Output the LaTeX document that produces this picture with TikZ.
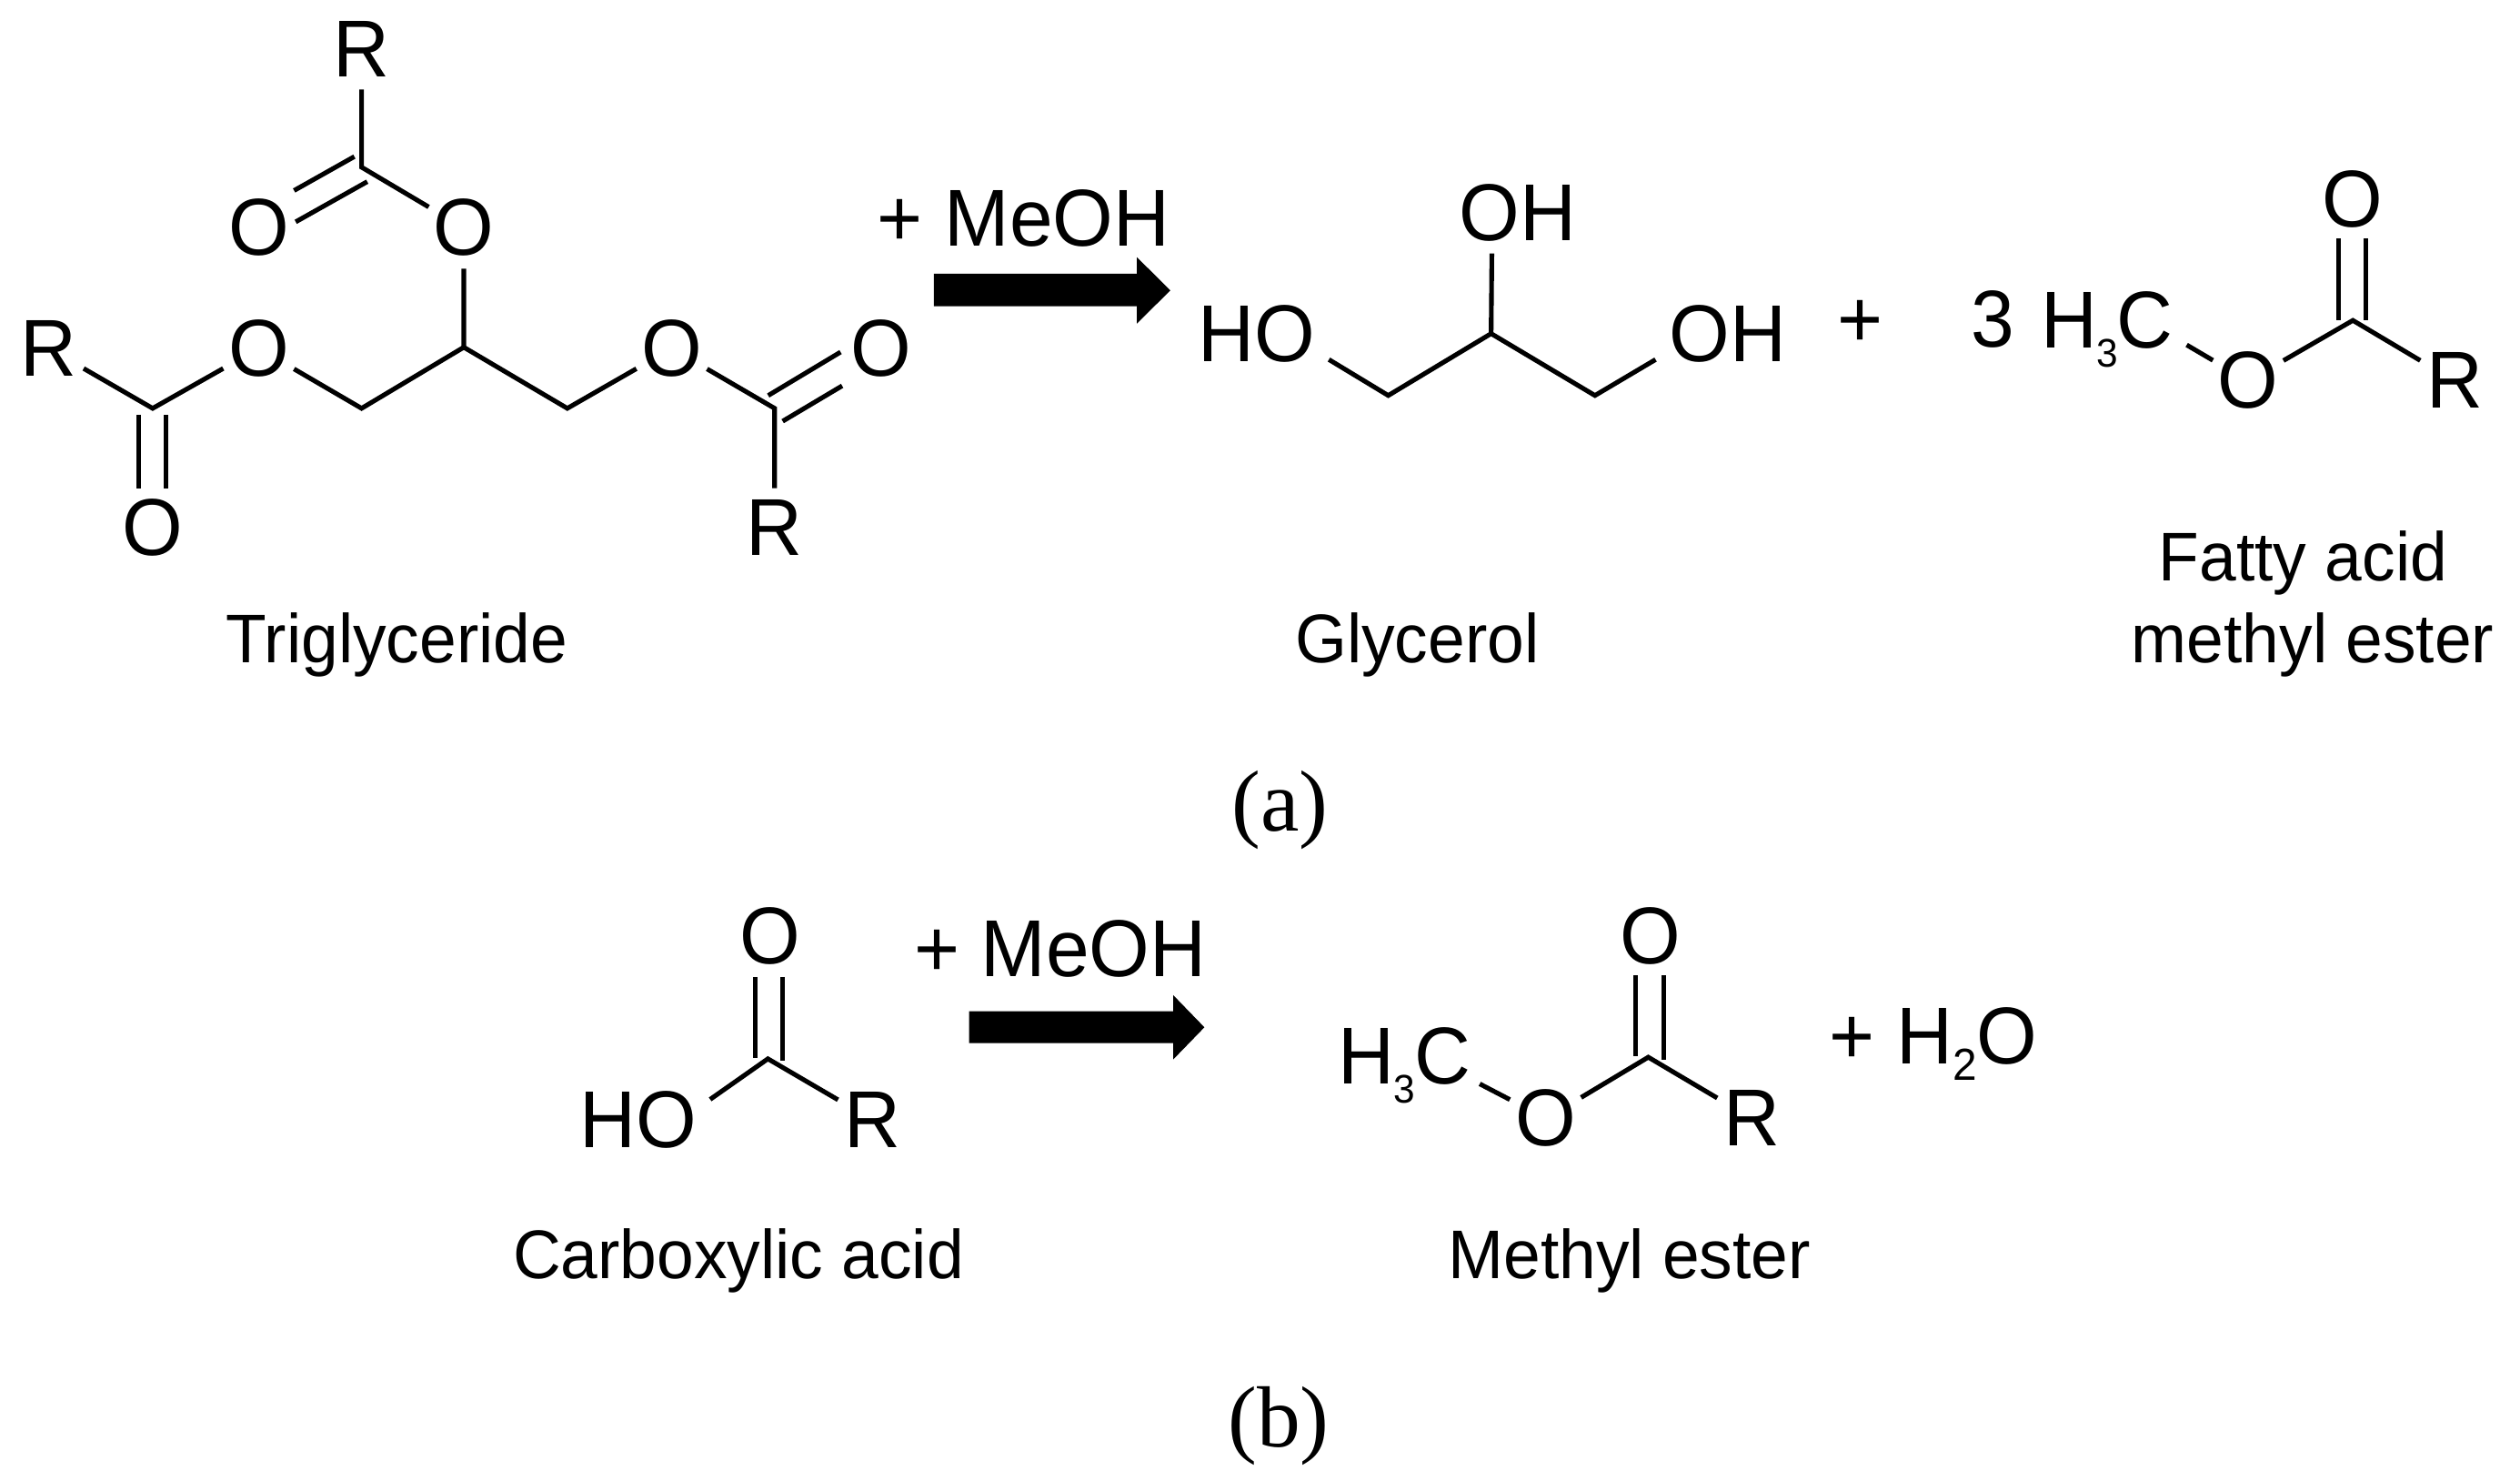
\documentclass[tikz,border=0pt]{standalone}
\usepackage{graphicx}
\usepackage{fontspec}
\setmainfont{Liberation Sans}
\newfontfamily\capserif{Liberation Serif}
\newcommand{\tx}[1]{\scalebox{1}[1.035]{#1}}
\newcommand{\subsm}[1]{\kern-0.6pt\raisebox{-11.5pt}{\fontsize{24}{24}\selectfont #1}\kern-0.6pt}
\newcommand{\subbig}[1]{\raisebox{-10pt}{\fontsize{27}{27}\selectfont #1}}
\tikzset{
  bond/.style={line width=2.9pt,line join=miter,line cap=butt,black},
  atom/.style={shape=circle,inner sep=0pt,outer sep=0pt,minimum size=50pt,text height=34pt,text depth=0pt,yshift=-0.7pt,font=\fontsize{48.5}{48.5}\selectfont},
  atomgroup/.style={shape=rectangle,inner ysep=0pt,inner xsep=8.5pt,outer sep=0pt,text height=34pt,text depth=0pt,yshift=-0.7pt,font=\fontsize{48.5}{48.5}\selectfont},
  rxn/.style={inner sep=0pt,outer sep=0pt,anchor=base,font=\fontsize{48.5}{48.5}\selectfont},
  compound/.style={inner sep=0pt,outer sep=0pt,anchor=base,yshift=-1.5pt,font=\fontsize{41.4}{41.4}\selectfont},
  panel/.style={inner sep=0pt,outer sep=0pt,anchor=base,font=\capserif\fontsize{54}{54}\selectfont},
  blockarrow/.style={fill=black,draw=none}
}
\begin{document}
\begin{tikzpicture}[x=1pt,y=-1pt]
\useasboundingbox (0,0) rectangle (1568,921);

% ---- triglyceride
\node[atom] (rT) at (225,30) {\tx{R}};
\node[atom] (oTd) at (161,141) {\tx{O}};
\node[atom] (oT) at (288.6,141) {\tx{O}};
\node[atom] (oL) at (161,216) {\tx{O}};
\node[atom] (rL) at (30.4,216) {\tx{R}};
\node[atom] (oLd) at (95,328) {\tx{O}};
\node[atom] (oR) at (418,216) {\tx{O}};
\node[atom] (oRd) at (548,216) {\tx{O}};
\node[atom] (rR) at (482,328) {\tx{R}};
\coordinate (cT) at (225,104);
\coordinate (cM) at (288.6,216);
\coordinate (cA) at (225,254);
\coordinate (cB) at (353,254);
\coordinate (cL) at (95,254);
\coordinate (cR) at (482,254);
\draw[bond] (rT) -- (cT) -- (oT) -- (cM);
\draw[bond] (oL) -- (cA) -- (cM) -- (cB) -- (oR) -- (cR) -- (rR);
\draw[bond] (rL) -- (cL) -- (oL);
\coordinate (t1a) at (220.5,97.4); \coordinate (t1b) at (183,118.5);
\coordinate (t2a) at (228.5,113); \coordinate (t2b) at (184,138);
\draw[bond] (t1a) -- (t1b);
\draw[bond] (t2a) -- (t2b);
\coordinate (l1a) at (86.3,258); \coordinate (l1b) at (86.3,304);
\coordinate (l2a) at (103.2,258); \coordinate (l2b) at (103.2,304);
\draw[bond] (l1a) -- (l1b);
\draw[bond] (l2a) -- (l2b);
\coordinate (r1a) at (478,246); \coordinate (r1b) at (523,219);
\coordinate (r2a) at (487,262); \coordinate (r2b) at (524,240);
\draw[bond] (r1a) -- (r1b);
\draw[bond] (r2a) -- (r2b);
\node[compound] (tgName) at (247,410.6) {\tx{Triglyceride}};

% ---- arrow a
\node[rxn] (meohA) at (637,153) {\tx{+ MeOH}};
\fill[blockarrow] (581,170.3) -- (707.4,170.3) -- (707.4,160) -- (728.2,180.6) -- (707.4,201.3) -- (707.4,190.5) -- (581,190.5) -- cycle;

% ---- glycerol
\node[atomgroup,inner ysep=8pt] (gOH) at (944.5,132) {\tx{OH}};
\node[atomgroup] (gHO) at (782,207.5) {\tx{HO}};
\node[atomgroup] (gOHr) at (1075,207.5) {\tx{OH}};
\coordinate (gM) at (927.8,207.5);
\coordinate (gA) at (863.8,246);
\coordinate (gB) at (992.4,246);
\draw[bond] (gHO.-19.5) -- (gA) -- (gM) -- (gB) -- (gOHr.199.5);
\draw[bond] (gOH.-123.7) -- (gM);
\node[compound] (gName) at (881.8,410.7) {\tx{Glycerol}};
\node[rxn] (plusA) at (1157.7,216) {\tx{+}};

% ---- FAME
\node[rxn] (three) at (1240,216) {\tx{3}};
\node[atomgroup] (fCH3) at (1311,198.7) {\tx{H\subsm{3}C}};
\node[atom] (fO) at (1398.8,236.3) {\tx{O}};
\node[atom] (fOd) at (1463.5,123.3) {\tx{O}};
\node[atom] (fR) at (1527.4,236.3) {\tx{R}};
\coordinate (fC) at (1464,199.3);
\draw[bond] (fCH3.-17) -- (fO) -- (fC) -- (fR);
\coordinate (f1a) at (1455,148.5); \coordinate (f1b) at (1455,199);
\coordinate (f2a) at (1472,148.5); \coordinate (f2b) at (1472,199);
\draw[bond] (f1a) -- (f1b);
\draw[bond] (f2a) -- (f2b);
\node[compound] (fName1) at (1433,360) {\tx{Fatty acid}};
\node[compound] (fName2) at (1439,410.7) {\tx{methyl ester}};
\node[panel] (panelA) at (796.3,517) {(a)};

% ---- carboxylic acid
\node[atom] (bOd) at (479,582) {\tx{O}};
\node[atomgroup] (bHO) at (397,696) {\tx{HO}};
\node[atom] (bR) at (543,696) {\tx{R}};
\coordinate (bC) at (477.8,658.6);
\draw[bond] (bHO.16.3) -- (bC) -- (bR);
\coordinate (b1a) at (470,607.6); \coordinate (b1b) at (470,658);
\coordinate (b2a) at (487,607.6); \coordinate (b2b) at (487,660);
\draw[bond] (b1a) -- (b1b);
\draw[bond] (b2a) -- (b2b);
\node[compound] (bName) at (459.5,793.7) {\tx{Carboxylic acid}};

% ---- arrow b
\node[rxn] (meohB) at (659.7,607.6) {\tx{+ MeOH}};
\fill[blockarrow] (603,629) -- (730,629) -- (730,619) -- (749.4,639) -- (730,659) -- (730,648.8) -- (603,648.8) -- cycle;

% ---- methyl ester
\node[atomgroup] (eCH3) at (874,656.5) {\tx{H\subsm{3}C}};
\node[atom] (eO) at (962,695) {\tx{O}};
\node[atom] (eOd) at (1027,582) {\tx{O}};
\node[atom] (eR) at (1090,695) {\tx{R}};
\coordinate (eC) at (1025.6,657.6);
\draw[bond] (eCH3.-20) -- (eO) -- (eC) -- (eR);
\coordinate (e1a) at (1017.8,606.6); \coordinate (e1b) at (1017.8,657);
\coordinate (e2a) at (1035,606.6); \coordinate (e2b) at (1035,659);
\draw[bond] (e1a) -- (e1b);
\draw[bond] (e2a) -- (e2b);
\node[compound] (eName) at (1013.8,793.7) {\tx{Methyl ester}};
\node[rxn] (water) at (1203,661.6) {\tx{+ H\subbig{2}O}};
\node[panel] (panelB) at (795.6,899.8) {(b)};
\end{tikzpicture}
\end{document}
